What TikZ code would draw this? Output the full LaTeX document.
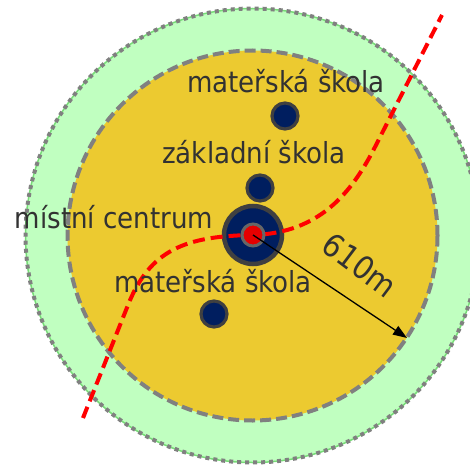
\documentclass[tikz,border=0pt]{standalone}
\usepackage{fontspec}
\setmainfont{DejaVu Sans Condensed}
\usetikzlibrary{arrows.meta}
\definecolor{ringgreen}{RGB}{192,255,192}
\definecolor{ringline}{RGB}{120,220,120}
\definecolor{zonegold}{RGB}{236,202,48}
\definecolor{bordergray}{RGB}{128,128,128}
\definecolor{dotnavy}{RGB}{0,30,95}
\definecolor{dotrim}{RGB}{64,64,64}
\definecolor{txtgray}{RGB}{50,50,50}
\begin{document}
\begin{tikzpicture}[x=1pt,y=-1pt,
  school/.style={circle,draw=dotrim,line width=3.2pt,fill=dotnavy,minimum size=26pt,inner sep=0pt},
  hub/.style={circle,draw=dotrim,line width=4.5pt,fill=dotnavy,minimum size=58pt,inner sep=0pt},
  core/.style={circle,draw=dotrim!80,line width=3pt,fill=red!90!black,minimum size=22pt,inner sep=0pt},
  lbl/.style={anchor=base,text=txtgray,font=\fontsize{29}{31}\selectfont,inner sep=0pt},
  road/.style={draw=red,line width=4pt,dash pattern=on 12pt off 6pt},
  radius arrow/.style={draw=black,line width=1.3pt,-{Triangle[length=14pt,width=10pt]}}]
\useasboundingbox (0,0) rectangle (470,465);
\clip (0,0) rectangle (470,465);
\fill[white] (0,0) rectangle (470,465);
\coordinate (ctr) at (252.5,235.5);
% outer green ring
\fill[ringgreen] (ctr) circle[radius=227];
\draw[ringline,line width=1.5pt] (ctr) circle[radius=227];
\draw[bordergray,line width=4pt,dash pattern=on 4pt off 4pt] (ctr) circle[radius=227];
% yellow zone
\fill[zonegold] (ctr) circle[radius=185];
\draw[bordergray,line width=4pt,dash pattern=on 11pt off 5pt] (ctr) circle[radius=185];
% schools
\node[school] (ms1) at (285,116) {};
\node[school] (zs) at (260,188) {};
\node[school] (ms2) at (214,314) {};
% hub
\node[hub] (hub) at (253,235) {};
% road
\coordinate (rs) at (83,418);
\coordinate (re) at (442,15);
\draw[road] (rs) -- (128,305) .. controls (150,250) and (185,236) .. (hub.center)
  .. controls (320,233) and (352,192) .. (375,147) -- (re);
\node[core] (core) at (253,235) {};
% radius arrow
\coordinate (edge) at (407,338);
\draw[radius arrow] (core.center) -- (edge);
% labels
\node[lbl] (t1) at (286,93) {mateřská škola};
\node[lbl] (t2) at (254,163) {základní škola};
\node[lbl] (t3) at (114,228) {místní centrum};
\node[lbl] (t4) at (213,292) {mateřská škola};
\node[text=txtgray,font=\fontsize{32}{34}\selectfont,rotate=-37,inner sep=0pt] (dist) at (360,265) {610m};
\end{tikzpicture}
\end{document}
